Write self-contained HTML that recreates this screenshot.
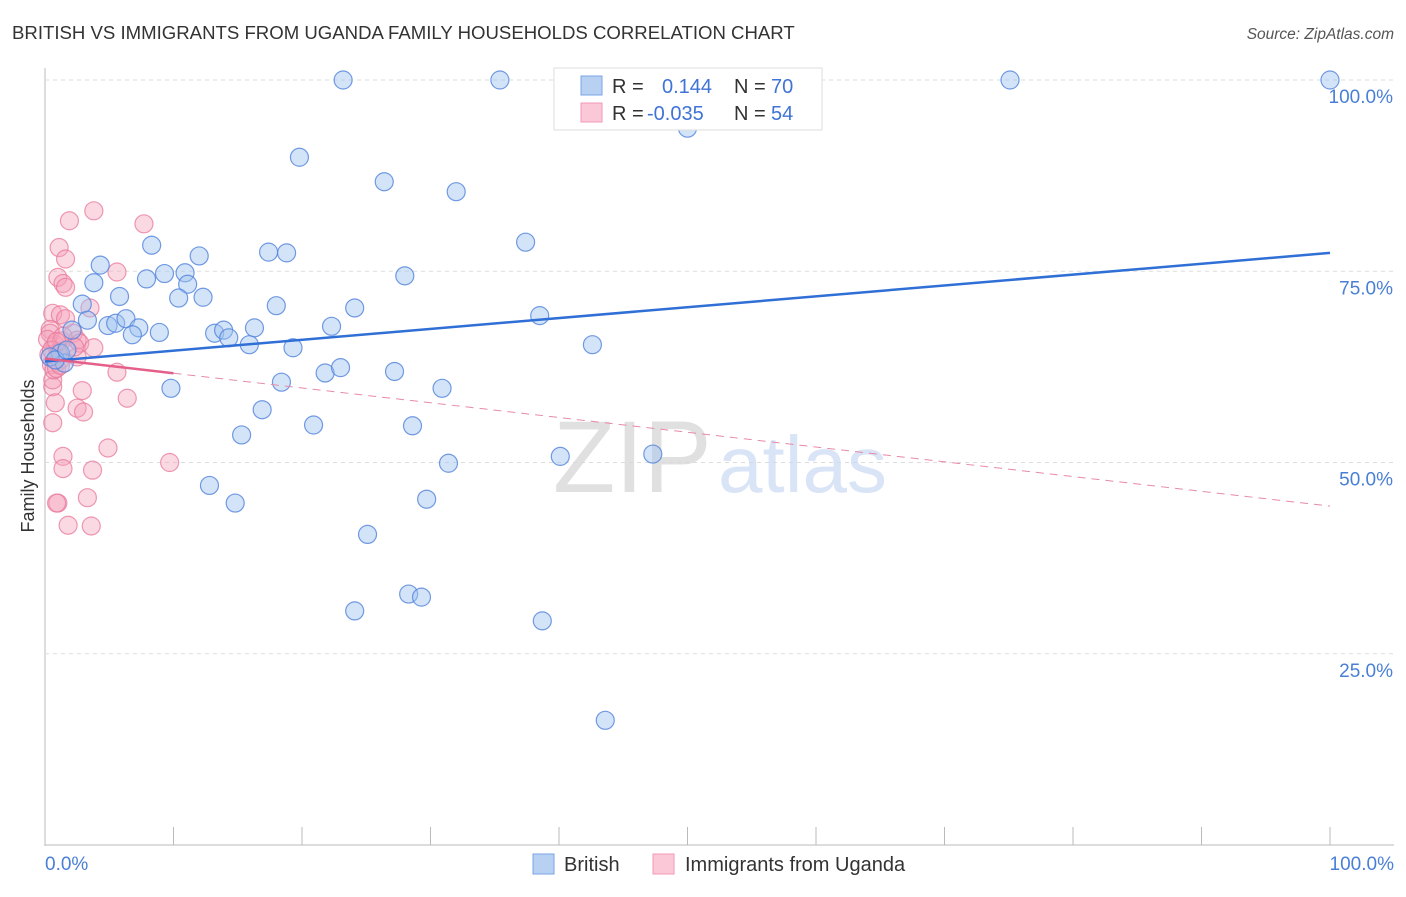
<!DOCTYPE html>
<html><head><meta charset="utf-8"><style>
body{margin:0;background:#fff;font-family:"Liberation Sans",sans-serif}
svg text{font-family:"Liberation Sans",sans-serif}
</style></head><body>
<svg id="chart" width="1406" height="892" xmlns="http://www.w3.org/2000/svg">
<text x="12" y="39" font-size="18.6" fill="#333">BRITISH VS IMMIGRANTS FROM UGANDA FAMILY HOUSEHOLDS CORRELATION CHART</text>
<text x="1394" y="39" font-size="15.5" fill="#555" text-anchor="end" font-style="italic">Source: ZipAtlas.com</text>
<g id="grid"></g>
<text x="553" y="492" font-size="102" fill="#d9d9d9" font-family="Liberation Serif" opacity="0.8">ZIP</text>
<text x="718" y="492" font-size="80" fill="#c9daf5" opacity="0.7">atlas</text>
<g id="pts"></g>
<g id="trend"></g>
<text transform="translate(34,456) rotate(-90)" font-size="18" fill="#333" text-anchor="middle">Family Households</text>
<text x="45" y="870" font-size="19" fill="#4a7fd6">0.0%</text>
<text x="1394" y="870" font-size="19" fill="#4a7fd6" text-anchor="end">100.0%</text>
<g>
<rect x="554" y="68" width="268" height="62" fill="#fff" stroke="#ddd"/>
<rect x="581" y="76" width="21" height="19" fill="#b8d1f3" stroke="#7aa4e4"/>
<rect x="581" y="103" width="21" height="19" fill="#fbc8d7" stroke="#f09ab5"/>
<text x="612" y="93" font-size="20" fill="#333">R =</text>
<text x="662" y="93" font-size="20" fill="#3f73d6">0.144</text>
<text x="734" y="93" font-size="20" fill="#333">N =</text>
<text x="771" y="93" font-size="20" fill="#3f73d6">70</text>
<text x="612" y="120" font-size="20" fill="#333">R =</text>
<text x="647" y="120" font-size="20" fill="#3f73d6">-0.035</text>
<text x="734" y="120" font-size="20" fill="#333">N =</text>
<text x="771" y="120" font-size="20" fill="#3f73d6">54</text>
</g>
<g>
<rect x="533" y="854" width="21" height="20" fill="#b8d1f3" stroke="#7aa4e4"/>
<text x="564" y="871" font-size="20" fill="#333">British</text>
<rect x="653" y="854" width="21" height="20" fill="#fbc8d7" stroke="#f09ab5"/>
<text x="685" y="871" font-size="20" fill="#333">Immigrants from Uganda</text>
</g>
</svg>
<script>
const yTicks=[25,50,75,100];
const yTickLabels=["25.0%","50.0%","75.0%","100.0%"];
const britishX=[23.2,35.4,75.1,100,50,19.8,26.4,32,37.4,8.3,12,17.4,18.8,4.3,9.3,10.9,28,7.9,3.8,11.1,5.8,10.4,12.3,2.9,18,24.1,3.3,38.5,4.9,5.5,6.3,7.3,6.8,8.9,13.2,13.9,16.3,14.3,15.9,22.3,19.3,42.6,1.2,1.5,0.4,9.8,18.4,21.8,23,27.2,30.9,16.9,15.3,20.9,28.6,31.4,40.1,47.3,12.8,14.8,29.7,25.1,24.1,28.3,29.3,38.7,43.6,0.8,2.1,1.7];
const britishY=[100,100,100,100,93.7,89.9,86.7,85.4,78.8,78.4,77,77.5,77.4,75.8,74.7,74.8,74.4,74,73.5,73.3,71.7,71.5,71.6,70.7,70.5,70.2,68.6,69.2,67.9,68.2,68.8,67.6,66.7,67,66.9,67.3,67.6,66.3,65.4,67.8,65,65.4,64.3,63,63.8,59.7,60.5,61.7,62.4,61.9,59.7,56.9,53.6,54.9,54.8,49.9,50.8,51.1,47,44.7,45.2,40.6,30.6,32.8,32.4,29.3,16.3,63.4,67.3,64.7];
const ugandaX=[3.8,1.9,7.7,1.1,1.6,5.6,1,1.4,1.6,3.5,0.6,1.2,2.2,2.5,2.7,5.6,2.9,6.4,2.5,3,0.6,0.8,0.6,4.9,1.4,1.4,3.7,9.7,1,3.3,0.9,1.8,3.6,0.4,0.8,0.3,0.5,1.2,1.6,0.4,1,0.2,1.3,0.6,0.7,2.5,1.1,0.9,1.4,2.3,3.8,0.5,1.2,0.9];
const ugandaY=[82.9,81.6,81.2,78.1,76.6,74.9,74.2,73.4,72.9,70.2,69.5,69.3,66.9,66,65.6,61.8,59.4,58.4,57.1,56.6,59.9,57.8,55.2,51.9,50.8,49.2,49,50,44.7,45.4,44.7,41.8,41.7,67.4,65.4,64.1,62.8,63.4,68.8,66.9,64.3,66.1,65.9,60.8,62.1,63.8,64.5,62.3,66.5,65.1,65,64.7,62.7,65.8];
const britishTrend=[63.2,77.4];
const ugandaTrend=[63.6,44.3];
const X0=45,X1=1330,Y0=845,Y100=80;
const sx=v=>X0+(X1-X0)*v/100, sy=v=>Y0+(Y100-Y0)*v/100;
const NS="http://www.w3.org/2000/svg";
function mk(tag,attrs,parent){const e=document.createElementNS(NS,tag);for(const k in attrs)e.setAttribute(k,attrs[k]);parent.appendChild(e);return e;}
const grid=document.getElementById('grid');
const ax=mk('line',{x1:45,y1:68,x2:45,y2:846,stroke:'#bbb'},grid);


const bx=mk('line',{x1:45,y1:845,x2:1394,y2:845,stroke:'#bbb'},grid);


for(let i=1;i<=10;i++){const t=mk('line',{x1:45+128.5*i,y1:827,x2:45+128.5*i,y2:845,stroke:'#bbb'},grid);

}
yTicks.forEach((v,i)=>{const l=mk('line',{x1:45,y1:sy(v),x2:1394,y2:sy(v),stroke:'#ddd','stroke-dasharray':'4,4'},grid);


const t=mk('text',{x:1393,y:sy(v)+23,'font-size':19,fill:'#4a7fd6','text-anchor':'end'},grid);t.textContent=yTickLabels[i];

});
const pts=document.getElementById('pts');
ugandaX.forEach((x,i)=>{const c=mk('circle',{cx:sx(x),cy:sy(ugandaY[i]),r:9,fill:'rgba(244,160,186,0.4)',stroke:'rgba(232,120,155,0.75)','stroke-width':1.2},pts);

});
britishX.forEach((x,i)=>{const c=mk('circle',{cx:sx(x),cy:sy(britishY[i]),r:9,fill:'rgba(160,195,240,0.45)',stroke:'rgba(80,130,220,0.8)','stroke-width':1.2},pts);

});
const tr=document.getElementById('trend');
const bl=mk('line',{x1:sx(0),y1:sy(britishTrend[0]),x2:sx(100),y2:sy(britishTrend[1]),stroke:'#2f6fd6','stroke-width':2.5},tr);


const pe=v=>ugandaTrend[0]+(ugandaTrend[1]-ugandaTrend[0])*v/100;
const pd=mk('line',{x1:sx(10),y1:sy(pe(10)),x2:sx(100),y2:sy(ugandaTrend[1]),stroke:'#e78aa7','stroke-width':1,'stroke-dasharray':'8,6'},tr);


const ps=mk('line',{x1:sx(0),y1:sy(ugandaTrend[0]),x2:sx(10),y2:sy(pe(10)),stroke:'#e4608a','stroke-width':2.5},tr);


</script>
</body></html>
